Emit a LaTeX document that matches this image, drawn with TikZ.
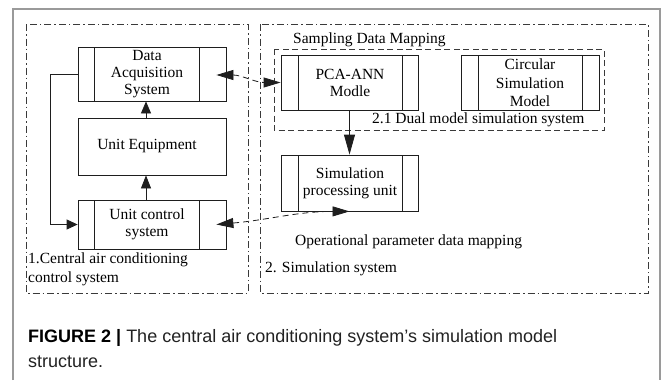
\documentclass[tikz,border=0pt]{standalone}
\usepackage{fontspec}
\setmainfont{Liberation Serif}
\newfontfamily\capfont{Liberation Sans}
\usetikzlibrary{arrows.meta}
\definecolor{boxcol}{HTML}{1E1E1E}
\definecolor{grpcol}{HTML}{3A3A3A}
\definecolor{framecol}{HTML}{9A9A9A}
\definecolor{capcol}{HTML}{222222}
\newcommand\capsz{\capfont\fontsize{18}{25}\selectfont}
\begin{document}
\begin{tikzpicture}[x=1pt,y=-1pt,
  every node/.style={inner sep=0pt, font=\fontsize{15.5}{17}\selectfont},
  proc/.style n args={2}{draw=boxcol, line width=0.8pt, rectangle,
    path picture={
      \draw[boxcol, line width=0.8pt] ([xshift=#1]path picture bounding box.north west) -- ([xshift=#1]path picture bounding box.south west);
      \draw[boxcol, line width=0.8pt] ([xshift=-#2]path picture bounding box.north east) -- ([xshift=-#2]path picture bounding box.south east);
    }},
  plainbox/.style={draw=boxcol, line width=0.8pt, rectangle},
  txt/.style={align=center, text=black},
  lbl/.style={anchor=base west, text=black},
  grp/.style={draw=grpcol, line width=0.7pt, dash pattern=on 7pt off 3pt on 1.5pt off 3pt},
  sub/.style={draw=grpcol, line width=0.7pt, dash pattern=on 6pt off 3.5pt},
  conn/.style={draw=boxcol, line width=0.8pt},
  dconn/.style={draw=boxcol, line width=0.8pt, dash pattern=on 6pt off 4pt},
]
\useasboundingbox (0,0) rectangle (663,380);
% outer frame
\draw[framecol, line width=1.2pt] (13,380) -- (13,9) -- (660,9) -- (660,380);

% group containers
\draw[grp] (26,24) rectangle (248,293);
\draw[grp] (260,24) rectangle (648,293);
\draw[sub] (274,49) rectangle (604,130);

% left system boxes
\node[proc={16pt}{27pt}, minimum width=148pt, minimum height=54pt] (das) at (152,74) {};
\node[txt] (dast) at (147,74) {Data\\Acquisition\\System};
\node[plainbox, minimum width=148pt, minimum height=57pt] (ue) at (152,146.5) {};
\node[txt] (uet) at (147,146.5) {Unit Equipment};
\node[proc={16pt}{27pt}, minimum width=148pt, minimum height=49pt] (ucs) at (152,224.5) {};
\node[txt] (ucst) at (147,224.5) {Unit control\\system};

% right system boxes
\node[proc={17pt}{16pt}, minimum width=137pt, minimum height=55pt] (pca) at (349.5,82.5) {};
\node[txt] (pcat) at (350,82.5) {PCA-ANN\\Modle};
\node[proc={17pt}{17pt}, minimum width=138pt, minimum height=55pt] (csm) at (530,82.5) {};
\node[txt, font=\fontsize{15.5}{18.5}\selectfont] (csmt) at (530,83) {Circular\\Simulation\\Model};
\node[proc={17pt}{16pt}, minimum width=137pt, minimum height=56pt] (spu) at (349.5,183) {};
\node[txt] (sput) at (350,183) {Simulation\\processing unit};

% labels
\node[lbl] (l1a) at (28,263) {1.Central air conditioning};
\node[lbl] (l1b) at (28,282) {control system};
\node[lbl] (sdm) at (293,43) {Sampling Data Mapping};
\node[lbl] (dual) at (372,123) {2.1 Dual model simulation system};
\node[lbl] (opm) at (295,245) {Operational parameter data mapping};
\node[lbl] (sims) at (265,272) {2. Simulation system};

% solid connectors
\draw[conn, -{Triangle[length=12pt,width=10pt]}] ([xshift=-6pt]ue.north) -- ([xshift=-6pt]das.south);
\draw[conn, -{Triangle[length=13pt,width=10pt]}] ([xshift=-6pt]ucs.north) -- ([xshift=-6pt]ue.south);
\draw[conn, -{Triangle[length=11pt,width=10pt]}] (das.west) -- ++(-27,0) |- (ucs.west);
\draw[conn, -{Triangle[length=20pt,width=11pt]}] (pca.south) -- (spu.north);

% dashed connectors
\coordinate (dasr) at ([xshift=-10pt,yshift=-1pt]das.east);
\coordinate (ucsr) at ([xshift=-10pt]ucs.east);
\draw[dconn, {Triangle[length=17pt,width=10pt]}-{Triangle[length=17pt,width=10pt]}] (dasr) to[out=0,in=180] (pca.west);
\draw[dconn, {Triangle[length=17pt,width=10pt]}-{Triangle[length=17pt,width=10pt]}] (ucsr) to[out=5,in=180] (spu.south);

% caption
\node[anchor=base west, text=capcol, font=\capsz] (cap1) at (28,342) {\textbf{\color{black}FIGURE 2 |} The central air conditioning system’s simulation model};
\node[anchor=base west, text=capcol, font=\capsz] (cap2) at (28,367) {structure.};
\end{tikzpicture}
\end{document}
